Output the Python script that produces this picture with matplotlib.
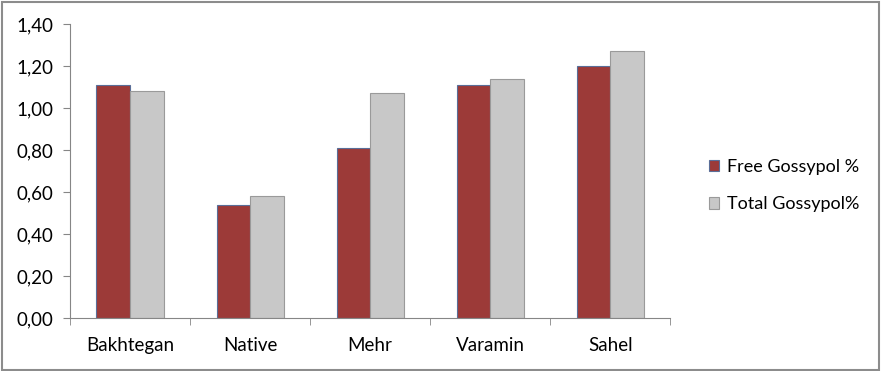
import numpy as np
import matplotlib.pyplot as plt
from matplotlib.patches import Rectangle
from matplotlib.ticker import FuncFormatter

# Dados
cultivares = ['Bakhtegan', 'Native', 'Mehr', 'Varamin', 'Sahel']
free_gossypol = [1.11, 0.54, 0.81, 1.11, 1.20]
total_gossypol = [1.08, 0.58, 1.07, 1.14, 1.27]

plt.rcParams['font.family'] = ['Lato', 'DejaVu Sans']

fig = plt.figure(figsize=(8.82, 3.71), dpi=100)
fig.patches.append(Rectangle((0.002, 0.003), 0.995, 0.992, transform=fig.transFigure,
                             fill=False, edgecolor='#8c8c8c', linewidth=1.5))
ax = fig.add_axes([0.0794, 0.143, 0.6806, 0.792])

x = np.arange(len(cultivares))
w = 0.28
ax.bar(x - w / 2, free_gossypol, w, color='#9c3a38', edgecolor='#5a6e98', linewidth=0.8,
       label='Free Gossypol %')
ax.bar(x + w / 2, total_gossypol, w, color='#c8c8c8', edgecolor='#9a9a9a', linewidth=0.8,
       label='Total Gossypol%')

ax.set_xlim(-0.5, len(cultivares) - 0.5)
ax.set_ylim(0, 1.4)
ax.set_yticks(np.arange(0, 1.41, 0.2))
ax.yaxis.set_major_formatter(FuncFormatter(lambda v, p: f'{v:.2f}'.replace('.', ',')))
ax.set_xticks(x)
ax.set_xticklabels(cultivares)
ax.set_xticks(np.arange(-0.5, len(cultivares), 1), minor=True)
ax.tick_params(axis='x', which='major', length=0, pad=14, labelsize=13.5)
ax.tick_params(axis='x', which='minor', length=5, color='#868686', direction='out')
ax.tick_params(axis='y', length=5, color='#868686', labelsize=13.5, pad=7)

for s in ['top', 'right']:
    ax.spines[s].set_visible(False)
for s in ['left', 'bottom']:
    ax.spines[s].set_color('#868686')

fig.legend(loc='center left', bbox_to_anchor=(0.785, 0.5), frameon=False, fontsize=13,
           handlelength=0.6, handleheight=0.6, handletextpad=0.4, labelspacing=1.2)

fig.savefig('out.png', dpi=100)
